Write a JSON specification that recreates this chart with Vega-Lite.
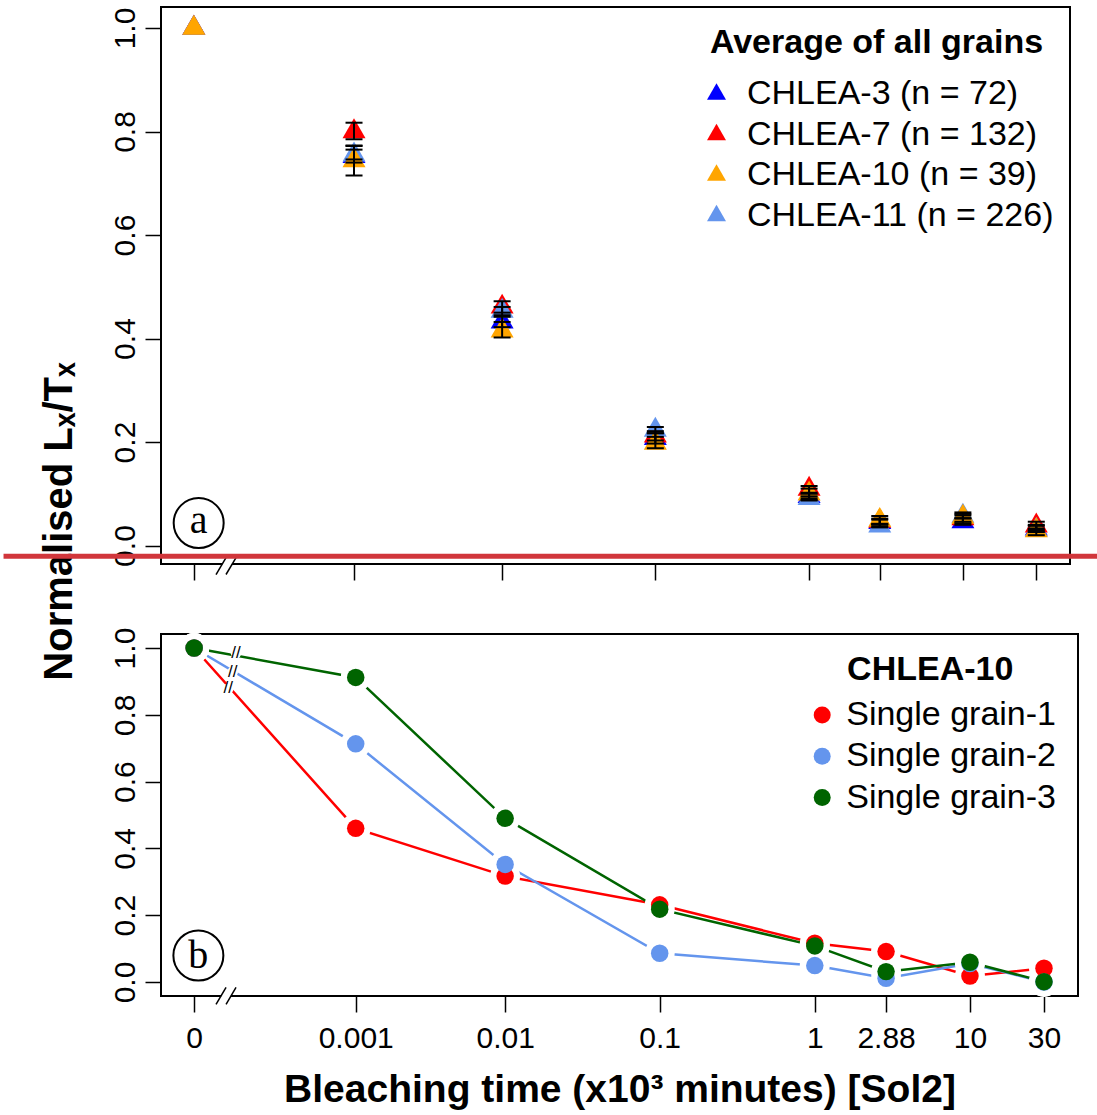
{
  "$schema": "https://vega.github.io/schema/vega-lite/v6.json",
  "background": "white",
  "padding": {"left": 0, "top": 6, "right": 0, "bottom": 0},
  "bounds": "flush",
  "spacing": 70,
  "resolve": {"scale": {"x": "independent", "y": "independent", "color": "independent"}, "legend": {"color": "independent"}},
  "config": {
    "font": "Liberation Sans",
    "view": {"stroke": "black", "strokeWidth": 2},
    "axis": {"domain": false, "grid": false, "ticks": true, "tickColor": "black", "tickWidth": 1.5, "tickSize": 16, "labelColor": "black", "labelFont": "Liberation Sans", "titleColor": "black", "titleFont": "Liberation Sans", "labelFlush": false, "labelOverlap": false}
  },
  "datasets": {
    "avg": [
      {"sample": "CHLEA-3 (n = 72)", "t": 0, "v": 1.0, "lo": 1.0, "hi": 1.0},
      {"sample": "CHLEA-3 (n = 72)", "t": 0.001, "v": 0.752, "lo": 0.740, "hi": 0.765},
      {"sample": "CHLEA-3 (n = 72)", "t": 0.01, "v": 0.432, "lo": 0.422, "hi": 0.442},
      {"sample": "CHLEA-3 (n = 72)", "t": 0.1, "v": 0.207, "lo": 0.197, "hi": 0.217},
      {"sample": "CHLEA-3 (n = 72)", "t": 1, "v": 0.095, "lo": 0.088, "hi": 0.102},
      {"sample": "CHLEA-3 (n = 72)", "t": 2.88, "v": 0.045, "lo": 0.040, "hi": 0.050},
      {"sample": "CHLEA-3 (n = 72)", "t": 10, "v": 0.046, "lo": 0.040, "hi": 0.052},
      {"sample": "CHLEA-3 (n = 72)", "t": 30, "v": 0.032, "lo": 0.026, "hi": 0.038},
      {"sample": "CHLEA-7 (n = 132)", "t": 0, "v": 1.0, "lo": 1.0, "hi": 1.0},
      {"sample": "CHLEA-7 (n = 132)", "t": 0.001, "v": 0.800, "lo": 0.785, "hi": 0.817},
      {"sample": "CHLEA-7 (n = 132)", "t": 0.01, "v": 0.461, "lo": 0.450, "hi": 0.472},
      {"sample": "CHLEA-7 (n = 132)", "t": 0.1, "v": 0.212, "lo": 0.203, "hi": 0.221},
      {"sample": "CHLEA-7 (n = 132)", "t": 1, "v": 0.109, "lo": 0.100, "hi": 0.115},
      {"sample": "CHLEA-7 (n = 132)", "t": 2.88, "v": 0.047, "lo": 0.042, "hi": 0.052},
      {"sample": "CHLEA-7 (n = 132)", "t": 10, "v": 0.052, "lo": 0.046, "hi": 0.058},
      {"sample": "CHLEA-7 (n = 132)", "t": 30, "v": 0.038, "lo": 0.030, "hi": 0.046},
      {"sample": "CHLEA-11 (n = 226)", "t": 0, "v": 1.0, "lo": 1.0, "hi": 1.0},
      {"sample": "CHLEA-11 (n = 226)", "t": 0.001, "v": 0.755, "lo": 0.746, "hi": 0.772},
      {"sample": "CHLEA-11 (n = 226)", "t": 0.01, "v": 0.453, "lo": 0.445, "hi": 0.461},
      {"sample": "CHLEA-11 (n = 226)", "t": 0.1, "v": 0.223, "lo": 0.217, "hi": 0.229},
      {"sample": "CHLEA-11 (n = 226)", "t": 1, "v": 0.091, "lo": 0.087, "hi": 0.095},
      {"sample": "CHLEA-11 (n = 226)", "t": 2.88, "v": 0.038, "lo": 0.035, "hi": 0.041},
      {"sample": "CHLEA-11 (n = 226)", "t": 10, "v": 0.057, "lo": 0.053, "hi": 0.061},
      {"sample": "CHLEA-11 (n = 226)", "t": 30, "v": 0.030, "lo": 0.027, "hi": 0.033},
      {"sample": "CHLEA-10 (n = 39)", "t": 0, "v": 1.0, "lo": 1.0, "hi": 1.0},
      {"sample": "CHLEA-10 (n = 39)", "t": 0.001, "v": 0.744, "lo": 0.715, "hi": 0.773},
      {"sample": "CHLEA-10 (n = 39)", "t": 0.01, "v": 0.415, "lo": 0.402, "hi": 0.432},
      {"sample": "CHLEA-10 (n = 39)", "t": 0.1, "v": 0.198, "lo": 0.188, "hi": 0.210},
      {"sample": "CHLEA-10 (n = 39)", "t": 1, "v": 0.100, "lo": 0.091, "hi": 0.110},
      {"sample": "CHLEA-10 (n = 39)", "t": 2.88, "v": 0.049, "lo": 0.036, "hi": 0.057},
      {"sample": "CHLEA-10 (n = 39)", "t": 10, "v": 0.055, "lo": 0.043, "hi": 0.064},
      {"sample": "CHLEA-10 (n = 39)", "t": 30, "v": 0.029, "lo": 0.020, "hi": 0.040}
    ],
    "single": [
      {"grain": "Single grain-1", "t": 0, "v": 1.0},
      {"grain": "Single grain-1", "t": 0.001, "v": 0.460},
      {"grain": "Single grain-1", "t": 0.01, "v": 0.317},
      {"grain": "Single grain-1", "t": 0.1, "v": 0.231},
      {"grain": "Single grain-1", "t": 1, "v": 0.116},
      {"grain": "Single grain-1", "t": 2.88, "v": 0.091},
      {"grain": "Single grain-1", "t": 10, "v": 0.018},
      {"grain": "Single grain-1", "t": 30, "v": 0.041},
      {"grain": "Single grain-2", "t": 0, "v": 1.0},
      {"grain": "Single grain-2", "t": 0.001, "v": 0.713},
      {"grain": "Single grain-2", "t": 0.01, "v": 0.352},
      {"grain": "Single grain-2", "t": 0.1, "v": 0.086},
      {"grain": "Single grain-2", "t": 1, "v": 0.049},
      {"grain": "Single grain-2", "t": 2.88, "v": 0.011},
      {"grain": "Single grain-2", "t": 10, "v": 0.055},
      {"grain": "Single grain-2", "t": 30, "v": 0.0},
      {"grain": "Single grain-3", "t": 0, "v": 1.0},
      {"grain": "Single grain-3", "t": 0.001, "v": 0.912},
      {"grain": "Single grain-3", "t": 0.01, "v": 0.490},
      {"grain": "Single grain-3", "t": 0.1, "v": 0.218},
      {"grain": "Single grain-3", "t": 1, "v": 0.108},
      {"grain": "Single grain-3", "t": 2.88, "v": 0.031},
      {"grain": "Single grain-3", "t": 10, "v": 0.059},
      {"grain": "Single grain-3", "t": 30, "v": 0.001}
    ],
    "linebreaks": [
      {"t": 0.0000862, "v": 0.984},
      {"t": 0.0000773, "v": 0.929},
      {"t": 0.0000661, "v": 0.879}
    ]
  },
  "vconcat": [
    {
      "width": 909,
      "height": 557,
      "layer": [
        {
          "data": {"name": "avg"},
          "mark": {"type": "point", "filled": true, "shape": "M0,-1.1547L1,0.5774L-1,0.5774Z", "size": 529, "opacity": 1, "strokeWidth": 0},
          "encoding": {
            "x": {"field": "t", "type": "quantitative",
              "scale": {"type": "symlog", "constant": 0.0001, "domain": [-0.0000635, 49.7], "nice": false, "zero": false},
              "axis": {"values": [0, 0.001, 0.01, 0.1, 1, 2.88, 10, 30], "labels": false, "title": null}},
            "y": {"field": "v", "type": "quantitative",
              "scale": {"domain": [-0.0357, 1.0406], "nice": false, "zero": false},
              "axis": {"values": [0, 0.2, 0.4, 0.6, 0.8, 1], "format": ".1f", "labelAngle": 270, "labelAlign": "center", "labelBaseline": "alphabetic", "labelPadding": 11, "labelFontSize": 30,
                "title": "Normalised Lₓ/Tₓ", "titleFontSize": 40, "titleFontWeight": "bold", "titleAngle": 270, "titleX": -90, "titleY": 514, "titleAlign": "center", "titleBaseline": "alphabetic"}},
            "color": {"field": "sample", "type": "nominal",
              "scale": {"domain": ["CHLEA-3 (n = 72)", "CHLEA-7 (n = 132)", "CHLEA-10 (n = 39)", "CHLEA-11 (n = 226)"], "range": ["#0000FF", "#FF0000", "#FFA500", "#6495ED"]},
              "legend": {"orient": "none", "legendX": 538.5, "legendY": 18.5, "padding": 0, "title": "Average of all grains", "titleFont": "Liberation Sans", "titleFontSize": 34, "titleFontWeight": "bold", "titleColor": "black", "titleAnchor": "middle", "titlePadding": 17.7, "titleLimit": 600,
                "labelFont": "Liberation Sans", "labelFontSize": 34, "labelColor": "black", "labelOffset": 13.5, "labelLimit": 600,
                "symbolType": "M0,-1.1547L1,0.5774L-1,0.5774Z", "symbolSize": 361, "symbolStrokeWidth": 0, "symbolOpacity": 1, "rowPadding": 6.5}}
          }
        },
        {
          "data": {"name": "avg"},
          "transform": [{"filter": "datum.t > 0"}],
          "mark": {"type": "rule", "color": "black", "strokeWidth": 2},
          "encoding": {
            "x": {"field": "t", "type": "quantitative"},
            "y": {"field": "lo", "type": "quantitative"},
            "y2": {"field": "hi"}
          }
        },
        {
          "data": {"name": "avg"},
          "transform": [{"filter": "datum.t > 0"}],
          "mark": {"type": "tick", "orient": "horizontal", "color": "black", "size": 17, "thickness": 2, "opacity": 1},
          "encoding": {
            "x": {"field": "t", "type": "quantitative"},
            "y": {"field": "lo", "type": "quantitative"}
          }
        },
        {
          "data": {"name": "avg"},
          "transform": [{"filter": "datum.t > 0"}],
          "mark": {"type": "tick", "orient": "horizontal", "color": "black", "size": 17, "thickness": 2, "opacity": 1},
          "encoding": {
            "x": {"field": "t", "type": "quantitative"},
            "y": {"field": "hi", "type": "quantitative"}
          }
        },
        {
          "data": {"values": [{}]},
          "mark": {"type": "rule", "color": "white", "strokeWidth": 8},
          "encoding": {
            "x": {"datum": 0.0000503, "type": "quantitative"}, "x2": {"datum": 0.0000745},
            "y": {"datum": -0.056, "type": "quantitative"}, "y2": {"datum": -0.0232}
          }
        },
        {
          "data": {"values": [{}]},
          "mark": {"type": "rule", "color": "black", "strokeWidth": 1.5},
          "encoding": {
            "x": {"datum": 0.0000394, "type": "quantitative"}, "x2": {"datum": 0.0000619},
            "y": {"datum": -0.056, "type": "quantitative"}, "y2": {"datum": -0.0232}
          }
        },
        {
          "data": {"values": [{}]},
          "mark": {"type": "rule", "color": "black", "strokeWidth": 1.5},
          "encoding": {
            "x": {"datum": 0.0000619, "type": "quantitative"}, "x2": {"datum": 0.0000881},
            "y": {"datum": -0.056, "type": "quantitative"}, "y2": {"datum": -0.0232}
          }
        },
        {
          "data": {"values": [{}]},
          "mark": {"type": "point", "shape": "circle", "size": 2500, "filled": false, "stroke": "black", "strokeWidth": 2, "opacity": 1},
          "encoding": {
            "x": {"datum": 0.0000075, "type": "quantitative"},
            "y": {"datum": 0.0435, "type": "quantitative"}
          }
        },
        {
          "data": {"values": [{}]},
          "mark": {"type": "text", "text": "a", "font": "Liberation Serif", "fontSize": 40, "align": "center", "baseline": "alphabetic", "color": "black"},
          "encoding": {
            "x": {"datum": 0.0000075, "type": "quantitative"},
            "y": {"datum": 0.0236, "type": "quantitative"}
          }
        },
        {
          "data": {"values": [{}]},
          "mark": {"type": "rule", "color": "#d1363b", "strokeWidth": 5},
          "encoding": {
            "x": {"datum": -0.001627, "type": "quantitative"}, "x2": {"datum": 75.6},
            "y": {"datum": -0.0208, "type": "quantitative"}
          }
        }
      ]
    },
    {
      "width": 917,
      "height": 362,
      "layer": [
        {
          "data": {"name": "single"},
          "mark": {"type": "line", "strokeWidth": 2.5},
          "encoding": {
            "x": {"field": "t", "type": "quantitative",
              "scale": {"type": "symlog", "constant": 0.0001, "domain": [-0.0000635, 49.7], "nice": false, "zero": false},
              "axis": {"values": [0, 0.001, 0.01, 0.1, 1, 2.88, 10, 30], "format": ".3~g", "labelFontSize": 30, "labelPadding": 11,
                "title": "Bleaching time (x10³ minutes) [Sol2]", "titleFontSize": 39, "titleFontWeight": "bold", "titleY": 105, "titleBaseline": "alphabetic"}},
            "y": {"field": "v", "type": "quantitative",
              "scale": {"domain": [-0.042, 1.042], "nice": false, "zero": false},
              "axis": {"values": [0, 0.2, 0.4, 0.6, 0.8, 1], "format": ".1f", "labelAngle": 270, "labelAlign": "center", "labelBaseline": "alphabetic", "labelPadding": 11, "labelFontSize": 30, "title": null}},
            "stroke": {"field": "grain", "type": "nominal",
              "scale": {"domain": ["Single grain-1", "Single grain-2", "Single grain-3"], "range": ["#FF0000", "#6495ED", "#006400"]},
              "legend": null}
          }
        },
        {
          "data": {"name": "linebreaks"},
          "mark": {"type": "point", "filled": true, "color": "white", "size": 110, "opacity": 1, "strokeWidth": 0},
          "encoding": {
            "x": {"field": "t", "type": "quantitative"},
            "y": {"field": "v", "type": "quantitative"}
          }
        },
        {
          "data": {"name": "linebreaks"},
          "mark": {"type": "text", "text": "//", "font": "Liberation Sans", "fontSize": 17, "align": "center", "baseline": "middle", "color": "black"},
          "encoding": {
            "x": {"field": "t", "type": "quantitative"},
            "y": {"field": "v", "type": "quantitative"}
          }
        },
        {
          "data": {"name": "single"},
          "mark": {"type": "point", "filled": true, "color": "white", "size": 900, "opacity": 1, "strokeWidth": 0},
          "encoding": {
            "x": {"field": "t", "type": "quantitative"},
            "y": {"field": "v", "type": "quantitative"}
          }
        },
        {
          "data": {"name": "single"},
          "mark": {"type": "point", "filled": true, "shape": "circle", "size": 306, "opacity": 1, "strokeWidth": 0},
          "encoding": {
            "x": {"field": "t", "type": "quantitative"},
            "y": {"field": "v", "type": "quantitative"},
            "color": {"field": "grain", "type": "nominal",
              "scale": {"domain": ["Single grain-1", "Single grain-2", "Single grain-3"], "range": ["#FF0000", "#6495ED", "#006400"]},
              "legend": {"orient": "none", "legendX": 644.2, "legendY": 19.1, "padding": 0, "title": "CHLEA-10", "titleFont": "Liberation Sans", "titleFontSize": 34, "titleFontWeight": "bold", "titleColor": "black", "titleAnchor": "middle", "titlePadding": 10.9, "titleLimit": 600,
                "labelFont": "Liberation Sans", "labelFontSize": 34, "labelColor": "black", "labelOffset": 7, "labelLimit": 600,
                "symbolType": "circle", "symbolSize": 289, "symbolStrokeWidth": 0, "symbolOpacity": 1, "rowPadding": 7.3}}
          }
        },
        {
          "data": {"values": [{}]},
          "mark": {"type": "rule", "color": "white", "strokeWidth": 8},
          "encoding": {
            "x": {"datum": 0.0000491, "type": "quantitative"}, "x2": {"datum": 0.0000729},
            "y": {"datum": -0.0674, "type": "quantitative"}, "y2": {"datum": -0.0165}
          }
        },
        {
          "data": {"values": [{}]},
          "mark": {"type": "rule", "color": "black", "strokeWidth": 1.5},
          "encoding": {
            "x": {"datum": 0.0000384, "type": "quantitative"}, "x2": {"datum": 0.0000606},
            "y": {"datum": -0.0674, "type": "quantitative"}, "y2": {"datum": -0.0165}
          }
        },
        {
          "data": {"values": [{}]},
          "mark": {"type": "rule", "color": "black", "strokeWidth": 1.5},
          "encoding": {
            "x": {"datum": 0.0000606, "type": "quantitative"}, "x2": {"datum": 0.0000862},
            "y": {"datum": -0.0674, "type": "quantitative"}, "y2": {"datum": -0.0165}
          }
        },
        {
          "data": {"values": [{}]},
          "mark": {"type": "point", "shape": "circle", "size": 2500, "filled": false, "stroke": "black", "strokeWidth": 2, "opacity": 1},
          "encoding": {
            "x": {"datum": 0.0000065, "type": "quantitative"},
            "y": {"datum": 0.0793, "type": "quantitative"}
          }
        },
        {
          "data": {"values": [{}]},
          "mark": {"type": "text", "text": "b", "font": "Liberation Serif", "fontSize": 40, "align": "center", "baseline": "alphabetic", "color": "black"},
          "encoding": {
            "x": {"datum": 0.0000065, "type": "quantitative"},
            "y": {"datum": 0.042, "type": "quantitative"}
          }
        }
      ]
    }
  ]
}
